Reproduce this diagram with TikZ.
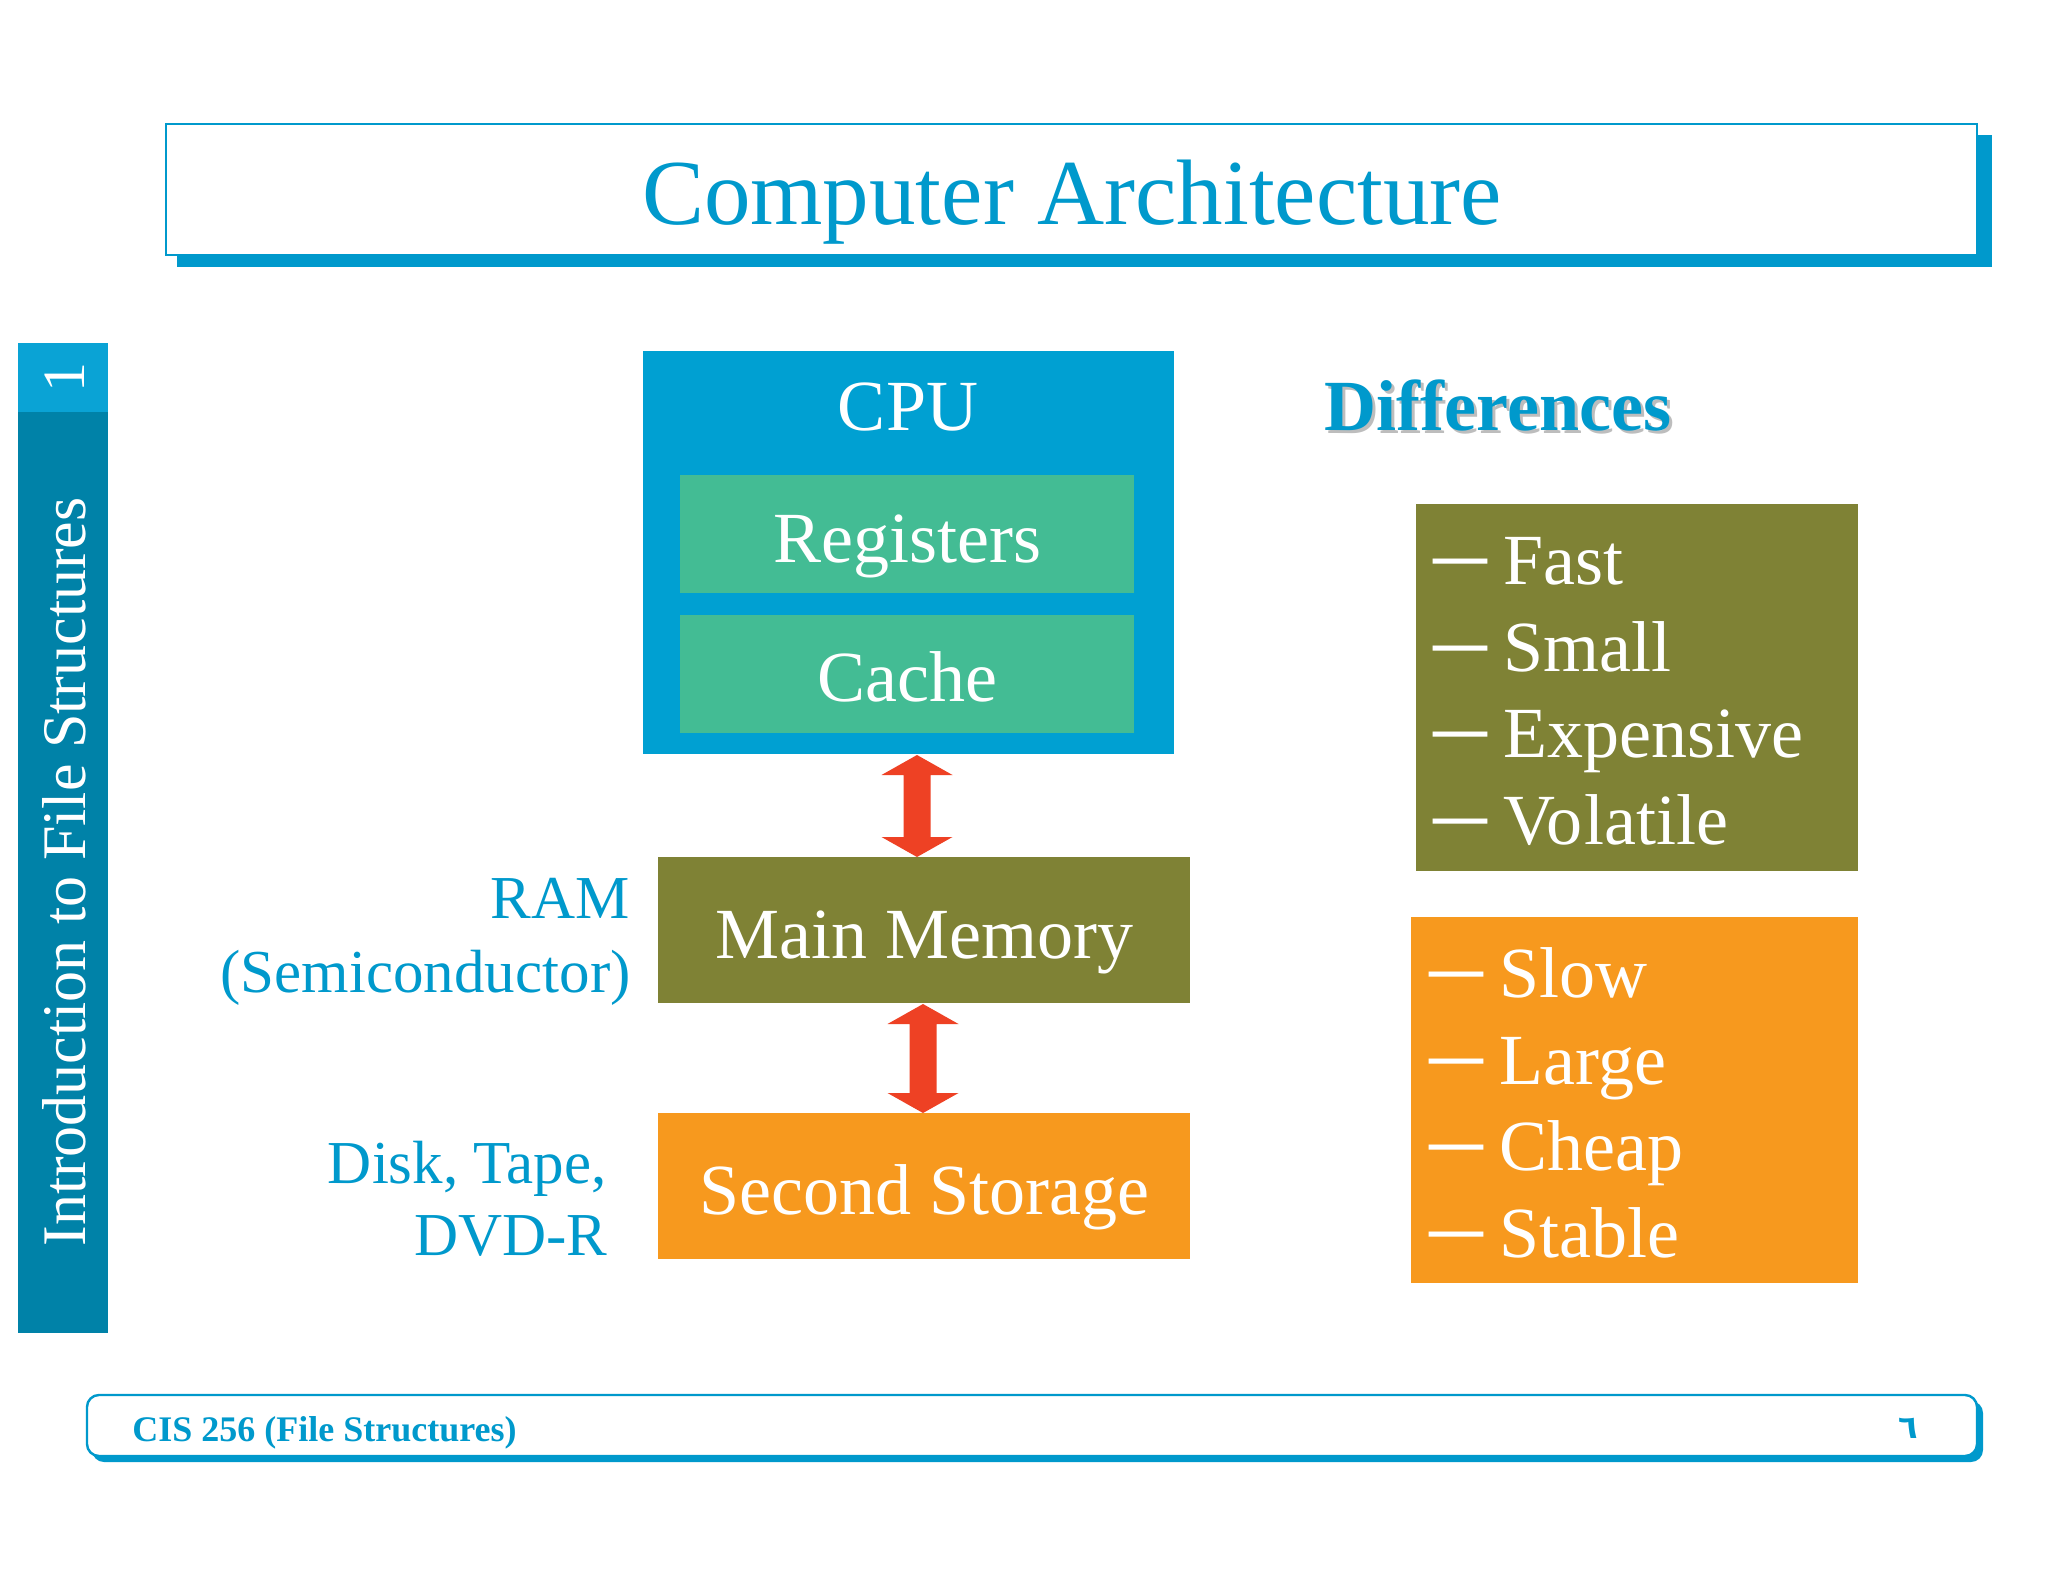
\documentclass[tikz,border=0pt]{standalone}
\usepackage{fontspec}
\setmainfont{Liberation Serif}
\newfontfamily\arabicfont[Script=Arabic]{DejaVu Sans}
\TeXXeTstate=1
\usetikzlibrary{calc,fit}
\definecolor{tcyan}{HTML}{0099CC}
\definecolor{cpublue}{HTML}{00A0D2}
\definecolor{regteal}{HTML}{43BC94}
\definecolor{olivebox}{HTML}{7F8235}
\definecolor{orangebox}{HTML}{F7991E}
\definecolor{arrred}{HTML}{EE4124}
\definecolor{bartop}{HTML}{0AA3D5}
\definecolor{barlow}{HTML}{0082A8}
\definecolor{shadowgray}{HTML}{BDBDBD}
\newcommand\fsz[1]{\fontsize{#1}{#1}\selectfont}
\newcommand\listdash{\raisebox{-0.5pt}{\scalebox{1}[1.9]{\fsz{27}—}}\hspace{8pt}}
\newcommand\firststrut{\rule{0pt}{30pt}}
\newcommand\fatarr[2]{%
  \fill[arrred] let \p1=(#1), \p2=(#2) in
    (\x1,\y1) -- (\x1+17.75pt,\y1-10pt) -- (\x1+6.75pt,\y1-10pt)
    -- (\x1+6.75pt,\y2+10pt) -- (\x1+17.75pt,\y2+10pt) -- (\x1,\y2)
    -- (\x1-17.75pt,\y2+10pt) -- (\x1-6.75pt,\y2+10pt)
    -- (\x1-6.75pt,\y1-10pt) -- (\x1-17.75pt,\y1-10pt) -- cycle;}
\begin{document}
\begin{tikzpicture}[x=0.5pt,y=-0.5pt,
  area/.style={rectangle,inner sep=0pt,outer sep=0pt},
  boxtext/.style={text=white,font=\fsz{36},anchor=base,inner sep=0pt},
  listtext/.style={text=white,font={\fontsize{36}{43.3}\selectfont},align=left,anchor=north west,inner sep=0pt},
  sidelabel/.style={text=tcyan,font=\fsz{30.5},anchor=base east,inner sep=0pt}]
\useasboundingbox (0,0) rectangle (2048,1582);
\fill[white] (0,0) rectangle (2048,1582);

% title
\node[area,fill=tcyan,fit={(177,135) (1992,267)}] (titleshadow) {};
\node[area,fill=white,draw=tcyan,line width=1pt,fit={(166,124) (1977,255)}] (titlebox) {};
\node[text=tcyan,font=\fsz{46.5},anchor=base,inner sep=0pt] (title) at (1072,225) {Computer Architecture};

% side bar
\node[area,fill=bartop,fit={(18,343) (108,412)}] (bartopbox) {};
\node[area,fill=barlow,fit={(18,412) (108,1333)}] (barlowbox) {};
\node[text=white,font=\fsz{30},rotate=90,anchor=base,inner sep=0pt] (barnum) at (84,378) {1};
\node[text=white,font=\fsz{31},rotate=90,anchor=base west,inner sep=0pt] (bartext) at (85,1247) {Introduction to File Structures};

% CPU block
\node[area,fill=cpublue,fit={(643,351) (1174,754)}] (cpu) {};
\node[area,fill=regteal,fit={(680,475) (1134,593)}] (reg) {};
\node[area,fill=regteal,fit={(680,615) (1134,733)}] (cache) {};
\node[boxtext] (cputext) at (908,431) {CPU};
\node[boxtext] (regtext) at (907,562) {Registers};
\node[boxtext] (cachetext) at (907,701) {Cache};

% memory blocks
\node[area,fill=olivebox,fit={(658,857) (1190,1003)}] (mm) {};
\node[boxtext] (mmtext) at (924,958) {Main Memory};
\node[area,fill=orangebox,fit={(658,1113) (1190,1259)}] (ss) {};
\node[boxtext] (sstext) at (924,1214) {Second Storage};

% arrows
\coordinate (a1s) at ($(cpu.south)+(8.5,1)$);
\coordinate (a1e) at ($(mm.north)+(-7,0)$);
\coordinate (a2s) at ($(mm.south)+(-1,1)$);
\coordinate (a2e) at ($(ss.north)+(-1,0)$);
\fatarr{a1s}{a1e}
\fatarr{a2s}{a2e}

% side labels
\node[sidelabel] (ram) at (630,918) {RAM};
\node[sidelabel] (semi) at (631,992) {(Semiconductor)};
\node[sidelabel] (disk) at (607,1183) {Disk, Tape,};
\node[sidelabel] (dvd) at (608,1255) {DVD-R};

% differences
\node[text=shadowgray,font=\fsz{36}\bfseries,anchor=base,inner sep=0pt] (diffshadow) at (1501,434) {Differences};
\node[text=tcyan,font=\fsz{36}\bfseries,anchor=base,inner sep=0pt] (diff) at (1498,431) {Differences};

\node[area,fill=olivebox,fit={(1416,504) (1858,871)}] (fastbox) {};
\node[listtext] (fastlist) at (1433,524) {\firststrut\listdash Fast\\ \listdash Small\\ \listdash Expensive\\ \listdash Vo\kern1pt latile};

\node[area,fill=orangebox,fit={(1411,917) (1858,1283)}] (slowbox) {};
\node[listtext] (slowlist) at (1429,937) {\firststrut\listdash Slow\\ \listdash Large\\ \listdash Cheap\\ \listdash Stable};

% footer
\node[area,fill=tcyan,rounded corners=6pt,fit={(92,1401) (1983,1462)}] (footshadow) {};
\node[area,fill=white,draw=tcyan,line width=1.2pt,rounded corners=6pt,fit={(87,1395) (1977,1456)}] (footbox) {};
\node[text=tcyan,font=\fsz{18}\bfseries,anchor=base west,inner sep=0pt] (foottext) at (132,1441) {CIS 256 (File Structures)};
\node[text=tcyan,font=\arabicfont\bfseries\fsz{16},anchor=base,inner sep=0pt] (pagenum) at (1908,1438) {\beginR ٦\endR};
\end{tikzpicture}
\end{document}
